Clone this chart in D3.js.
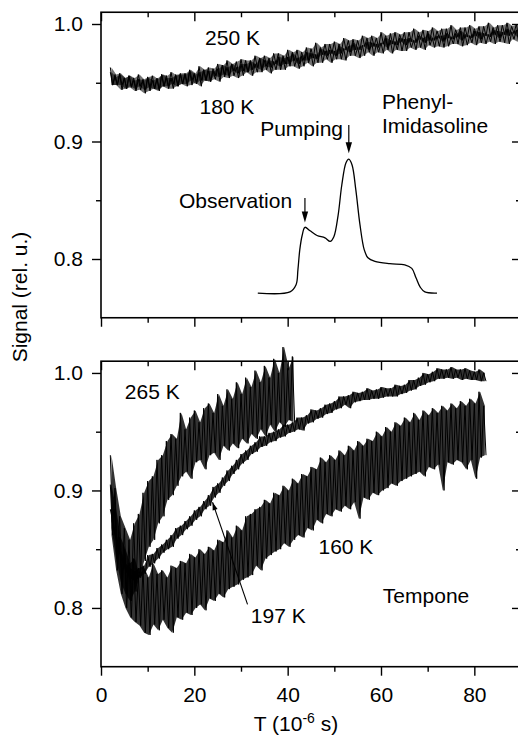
<!DOCTYPE html>
<html>
<head>
<meta charset="utf-8">
<script src="https://cdn.jsdelivr.net/npm/d3@7"></script>
<style>
body { margin: 0; background: #fff; }
text { font-family: "Liberation Sans", Arial, Helvetica, sans-serif; fill: #000; }
</style>
</head>
<body>
<script>
// ---- data (time in 10^-6 s, signal in rel. u.) ----
// noisy traces: one high and one low reading per microsecond, starting at T0
const T0 = 2;

// top panel, phenyl-imidasoline
const top250Hi = [.963,.957,.958,.954,.956,.954,.957,.953,.955,.956,.953,.957,.956,.959,.956,.958,.958,.961,.958,.964,.961,.963,.962,.966,.965,.969,.966,.968,.970,.969,.969,.973,.971,.973,.971,.975,.975,.973,.978,.976,.978,.976,.980,.979,.984,.980,.983,.983,.985,.983,.988,.986,.987,.986,.990,.988,.990,.988,.993,.990,.992,.993,.991,.993,.993,.996,.993,.995,.994,.997,.994,.996,.996,.999,.995,.997,.997,.999,.996,.998,.998,1.001,.997,.999,.999,1.001,.998,1.000,1.000];
const top250Lo = [.948,.948,.948,.945,.947,.945,.947,.944,.946,.945,.944,.947,.947,.949,.947,.949,.949,.952,.949,.952,.952,.951,.956,.955,.957,.956,.960,.958,.960,.959,.961,.963,.961,.964,.963,.966,.964,.966,.966,.969,.966,.969,.969,.971,.970,.974,.973,.975,.973,.975,.978,.976,.978,.978,.981,.978,.981,.980,.983,.980,.983,.982,.985,.982,.985,.984,.987,.984,.986,.986,.988,.985,.988,.987,.989,.986,.989,.988,.990,.987,.990,.989,.991,.988,.991,.990,.992,.989,.992];
const top180Hi = [.959,.955,.957,.954,.956,.952,.953,.952,.954,.952,.954,.957,.954,.954,.957,.957,.957,.960,.957,.959,.961,.960,.960,.962,.965,.963,.966,.963,.966,.966,.968,.966,.971,.969,.969,.968,.972,.971,.972,.975,.971,.973,.976,.975,.974,.979,.977,.978,.977,.981,.979,.981,.984,.980,.982,.985,.984,.983,.984,.988,.986,.985,.988,.987,.988,.986,.990,.988,.992,.988,.990,.990,.992,.989,.992,.994,.991,.990,.994,.993,.992,.991,.995,.994,.993,.996,.993,.995,.994];
const top180Lo = [.948,.948,.944,.945,.946,.943,.944,.941,.943,.945,.943,.947,.945,.945,.947,.949,.947,.948,.950,.947,.952,.951,.953,.951,.955,.954,.956,.954,.956,.959,.956,.959,.959,.961,.958,.961,.961,.961,.964,.964,.962,.964,.967,.964,.967,.967,.970,.967,.970,.970,.969,.973,.973,.971,.973,.976,.973,.976,.975,.978,.975,.978,.977,.977,.980,.978,.980,.978,.982,.980,.981,.980,.981,.983,.983,.981,.982,.984,.982,.984,.983,.985,.983,.985,.984,.983,.987,.985,.986];

// phenyl-imidasoline excitation profile (smooth)
const phenylT = [33.6, 40.5, 41.8, 42.2, 42.6, 43.1, 43.7, 44.8, 46.3, 48.0, 49.1, 49.9, 50.8, 51.6, 52.5, 53.1, 53.8, 54.6, 55.5, 56.4, 57.2, 58.7, 61.9, 65.1, 66.6, 67.5, 68.4, 69.4, 72.0];
const phenylS = [0.771, 0.772, 0.778, 0.791, 0.808, 0.820, 0.827, 0.824, 0.820, 0.818, 0.815, 0.819, 0.837, 0.863, 0.882, 0.885, 0.880, 0.859, 0.829, 0.808, 0.801, 0.798, 0.796, 0.795, 0.792, 0.784, 0.776, 0.772, 0.771];

// bottom panel, tempone
const bot265Hi = [.930,.902,.878,.868,.858,.872,.880,.898,.908,.912,.926,.930,.942,.948,.944,.966,.952,.962,.968,.958,.970,.974,.966,.982,.972,.986,.978,.992,.982,.996,.988,1.002,.992,1.006,.996,1.012,1.000,1.022,1.004,1.014];
const bot265Lo = [.868,.842,.822,.812,.806,.814,.826,.840,.852,.858,.872,.878,.892,.896,.904,.912,.916,.910,.924,.926,.918,.930,.932,.926,.938,.934,.940,.936,.944,.940,.948,.944,.952,.946,.956,.950,.958,.954,.960,.958];
const bot197Hi = [.884,.863,.849,.838,.834,.831,.834,.836,.845,.846,.851,.854,.858,.862,.868,.870,.874,.878,.883,.886,.891,.896,.903,.906,.911,.917,.921,.926,.931,.934,.938,.941,.946,.946,.949,.950,.952,.956,.956,.958,.962,.962,.964,.969,.968,.970,.973,.974,.976,.980,.980,.981,.984,.983,.984,.987,.985,.986,.988,.987,.987,.990,.989,.990,.994,.994,.996,1.000,.999,1.001,1.004,1.003,1.003,1.005,1.003,1.003,1.004,1.002,1.001,1.003,1.000];
const bot197Lo = [.874,.856,.841,.831,.825,.823,.826,.829,.835,.838,.842,.847,.850,.852,.859,.862,.867,.870,.875,.878,.884,.887,.894,.898,.904,.908,.914,.918,.923,.926,.931,.933,.937,.938,.941,.942,.945,.946,.949,.950,.952,.951,.957,.958,.961,.962,.965,.966,.969,.970,.973,.970,.975,.976,.977,.977,.978,.978,.979,.980,.980,.980,.982,.983,.985,.986,.989,.990,.992,.993,.995,.995,.996,.995,.996,.994,.995,.994,.994,.993,.993];
const bot160Hi = [.905,.884,.860,.850,.838,.842,.828,.834,.826,.838,.829,.832,.826,.836,.834,.840,.838,.846,.843,.850,.846,.852,.849,.858,.856,.866,.860,.870,.866,.878,.880,.884,.886,.892,.889,.898,.896,.904,.900,.910,.906,.914,.912,.920,.918,.928,.924,.930,.926,.934,.930,.938,.934,.942,.938,.944,.942,.950,.946,.954,.950,.958,.955,.962,.958,.966,.960,.968,.964,.970,.966,.972,.968,.974,.970,.976,.972,.978,.974,.984,.972];
const bot160Lo = [.862,.832,.812,.800,.792,.788,.785,.779,.777,.786,.781,.790,.783,.779,.792,.790,.796,.794,.800,.803,.798,.808,.806,.812,.809,.816,.818,.820,.824,.826,.828,.836,.832,.842,.845,.848,.850,.855,.852,.858,.862,.860,.868,.866,.875,.872,.880,.878,.884,.882,.887,.884,.890,.876,.894,.892,.898,.896,.900,.902,.906,.904,.908,.910,.912,.914,.916,.912,.920,.918,.922,.900,.924,.922,.926,.924,.918,.926,.910,.928,.930];

// axes
const xMajor = [0, 20, 40, 60, 80];
const xMinor = [10, 30, 50, 70, 90];
const yMajor = [0.8, 0.9, 1.0];
const yMinor = [0.85, 0.95];

// ---- layout ----
const WIDTH = 518, HEIGHT = 735;
const LEFT = 101, RIGHT = 521;
const PANEL_H = 305.5;
const TOP1 = 12.25, TOP2 = 361.2;
const FONT = 21;
const MAJOR = 9, MINOR = 5;

const svg = d3.select("body").append("svg")
    .attr("width", WIDTH)
    .attr("height", HEIGHT);

const xScale = d3.scaleLinear().domain([0, 90]).range([LEFT, RIGHT]);
const yTop = d3.scaleLinear().domain([0.75, 1.01]).range([TOP1 + PANEL_H, TOP1]);
const yBot = d3.scaleLinear().domain([0.75, 1.01]).range([TOP2 + PANEL_H, TOP2]);

// a noisy trace: alternate the high and low reading every half microsecond
const zigzag = (hi, lo) => hi.flatMap((h, i) => [[T0 + i, h], [T0 + i + 0.5, lo[i]]]);
const band = (hi, lo) => hi.map((h, i) => ({t: T0 + i + 0.25, hi: h, lo: lo[i]}));

function drawPanel(y, top, showX) {
    const g = svg.append("g");

    // x ticks on both edges, all pointing down
    [top, top + PANEL_H].forEach((yy, k) => {
        g.append("g").attr("transform", `translate(0,${yy})`)
            .call(d3.axisBottom(xScale).tickValues(xMajor).tickSize(MAJOR).tickPadding(11)
                .tickFormat(showX && k == 1 ? d3.format("d") : ""));
        g.append("g").attr("transform", `translate(0,${yy})`)
            .call(d3.axisBottom(xScale).tickValues(xMinor).tickSize(MINOR).tickFormat(""));
    });

    // y ticks, left side labelled, right side ticks pointing in
    g.append("g").attr("transform", `translate(${LEFT},0)`)
        .call(d3.axisLeft(y).tickValues(yMajor).tickSize(MAJOR).tickPadding(9).tickFormat(d3.format(".1f")));
    g.append("g").attr("transform", `translate(${LEFT},0)`)
        .call(d3.axisLeft(y).tickValues(yMinor).tickSize(MINOR).tickFormat(""));
    g.append("g").attr("transform", `translate(${RIGHT},0)`)
        .call(d3.axisLeft(y).tickValues(yMajor).tickSize(MAJOR).tickFormat(""));
    g.append("g").attr("transform", `translate(${RIGHT},0)`)
        .call(d3.axisLeft(y).tickValues(yMinor).tickSize(MINOR).tickFormat(""));

    g.selectAll(".domain").remove();
    g.selectAll(".tick line").attr("stroke", "#000").attr("stroke-width", 1.4);
    g.selectAll(".tick text")
        .style("font-size", FONT + "px")
        .style("font-family", "'Liberation Sans', Arial, sans-serif")
        .attr("fill", "#000");

    g.append("rect")
        .attr("x", LEFT).attr("y", top)
        .attr("width", RIGHT - LEFT).attr("height", PANEL_H)
        .attr("fill", "none")
        .attr("stroke", "#000")
        .attr("stroke-width", 1.6);

    return svg.append("g");
}

const plotTop = drawPanel(yTop, TOP1, false);
const plotBot = drawPanel(yBot, TOP2, true);

function drawTraces(plot, y, traces) {
    const line = d3.line().x(d => xScale(d[0])).y(d => y(d[1]));
    const area = d3.area().x(d => xScale(d.t)).y0(d => y(d.lo)).y1(d => y(d.hi));

    plot.selectAll(".band")
        .data(traces)
        .join("path")
        .attr("class", "band")
        .attr("d", d => area(band(d.hi, d.lo)))
        .attr("fill", "#000")
        .attr("fill-opacity", d => d.fill);

    plot.selectAll(".trace")
        .data(traces)
        .join("path")
        .attr("class", "trace")
        .attr("d", d => line(zigzag(d.hi, d.lo)))
        .attr("fill", "none")
        .attr("stroke", "#000")
        .attr("stroke-width", 1)
        .attr("stroke-linejoin", "bevel");
}

drawTraces(plotTop, yTop, [
    {hi: top180Hi, lo: top180Lo, fill: 0.55},
    {hi: top250Hi, lo: top250Lo, fill: 0.55}
]);

plotTop.append("path")
    .datum(phenylT.map((t, i) => [t, phenylS[i]]))
    .attr("d", d3.line().x(d => xScale(d[0])).y(d => yTop(d[1])).curve(d3.curveCatmullRom))
    .attr("fill", "none")
    .attr("stroke", "#000")
    .attr("stroke-width", 1.3);

drawTraces(plotBot, yBot, [
    {hi: bot160Hi, lo: bot160Lo, fill: 0.8},
    {hi: bot197Hi, lo: bot197Lo, fill: 0.8},
    {hi: bot265Hi, lo: bot265Lo, fill: 0.8}
]);

// ---- annotations (positions in data units) ----
const topLabels = [
    {t: 22.3, s: 0.982, text: "250 K"},
    {t: 21.1, s: 0.923, text: "180 K"},
    {t: 60.2, s: 0.928, text: "Phenyl-"},
    {t: 60.2, s: 0.907, text: "Imidasoline"},
    {t: 34.1, s: 0.905, text: "Pumping"},
    {t: 16.7, s: 0.843, text: "Observation"}
];
const botLabels = [
    {t: 5.1, s: 0.978, text: "265 K"},
    {t: 32.1, s: 0.787, text: "197 K"},
    {t: 46.6, s: 0.846, text: "160 K"},
    {t: 60.4, s: 0.804, text: "Tempone"}
];
const topArrows = [
    {t: 53.1, s1: 0.914, s2: 0.890},
    {t: 43.7, s1: 0.852, s2: 0.831}
];

svg.selectAll(".lab-top")
    .data(topLabels)
    .join("text")
    .attr("class", "lab-top")
    .attr("x", d => xScale(d.t))
    .attr("y", d => yTop(d.s))
    .style("font-size", FONT + "px")
    .text(d => d.text);

svg.selectAll(".lab-bot")
    .data(botLabels)
    .join("text")
    .attr("class", "lab-bot")
    .attr("x", d => xScale(d.t))
    .attr("y", d => yBot(d.s))
    .style("font-size", FONT + "px")
    .text(d => d.text);

// vertical arrows in the top panel
topArrows.forEach(a => {
    const x = xScale(a.t), y1 = yTop(a.s1), y2 = yTop(a.s2);
    svg.append("line")
        .attr("x1", x).attr("x2", x)
        .attr("y1", y1).attr("y2", y2 - 8)
        .attr("stroke", "#000").attr("stroke-width", 1.2);
    svg.append("path")
        .attr("d", `M${x - 3.2},${y2 - 11}L${x + 3.2},${y2 - 11}L${x},${y2}Z`)
        .attr("fill", "#000");
});

// leader from "197 K" to its trace
{
    const x1 = xScale(31.4), y1 = yBot(0.803);
    const x2 = xScale(23.9), y2 = yBot(0.890);
    svg.append("line")
        .attr("x1", x1).attr("y1", y1).attr("x2", x2).attr("y2", y2)
        .attr("stroke", "#000").attr("stroke-width", 1.1);
    const ang = Math.atan2(y2 - y1, x2 - x1);
    const L = 8, W = 2.6;
    const bx = x2 - L * Math.cos(ang), by = y2 - L * Math.sin(ang);
    svg.append("path")
        .attr("d", `M${x2},${y2}L${bx - W * Math.sin(ang)},${by + W * Math.cos(ang)}L${bx + W * Math.sin(ang)},${by - W * Math.cos(ang)}Z`)
        .attr("fill", "#000");
}

// axis titles
const xTitle = svg.append("text")
    .attr("x", 296)
    .attr("y", 731)
    .attr("text-anchor", "middle")
    .style("font-size", FONT + "px");
xTitle.append("tspan").text("T (10");
xTitle.append("tspan").attr("dy", -8).style("font-size", "14px").text("-6");
xTitle.append("tspan").attr("dy", 8).text(" s)");

svg.append("text")
    .attr("transform", "translate(27,297) rotate(-90)")
    .attr("text-anchor", "middle")
    .style("font-size", FONT + "px")
    .text("Signal (rel. u.)");
</script>
</body>
</html>
